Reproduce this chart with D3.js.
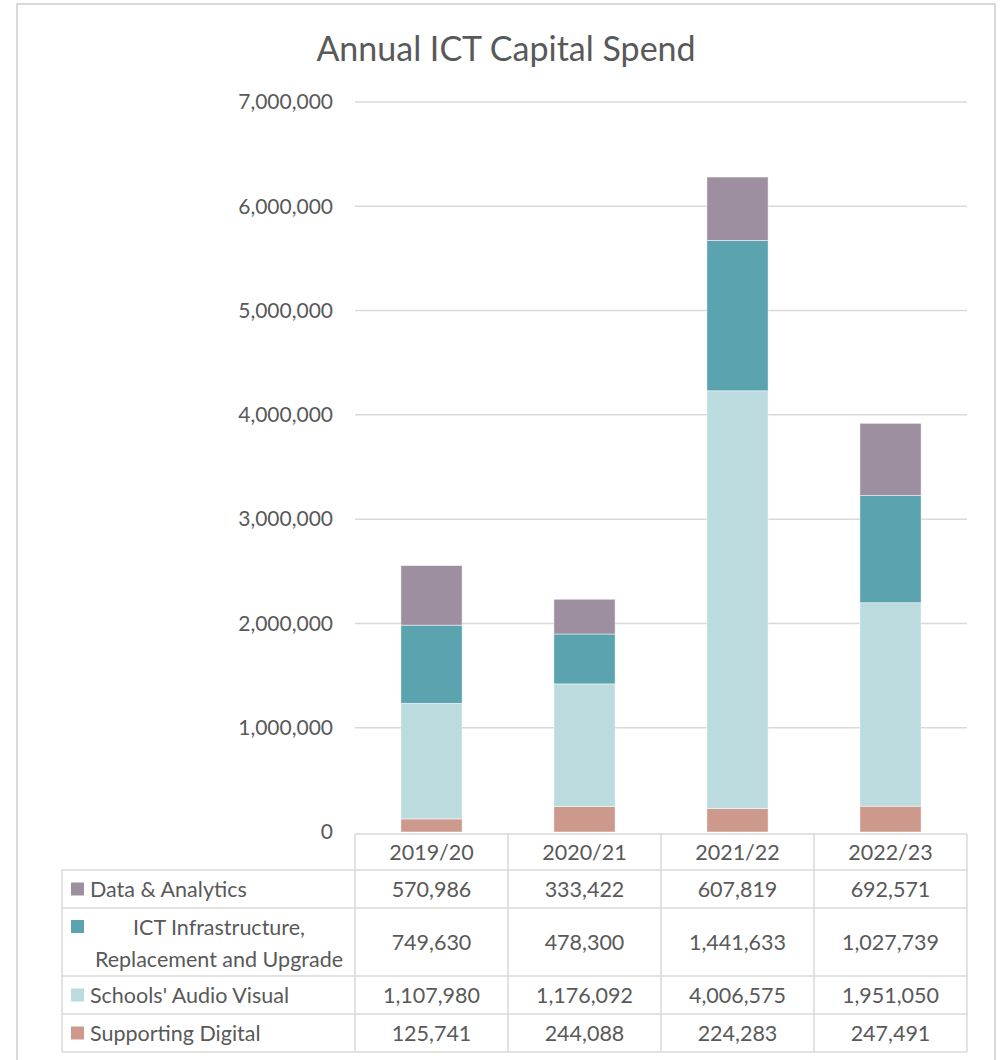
<!DOCTYPE html>
<html>
<head>
<meta charset="utf-8">
<script src="https://cdn.jsdelivr.net/npm/d3@7"></script>
<style>
  body { margin: 0; background: #fff; }
  svg text { font-family: Lato, "Open Sans", sans-serif; fill: #595959; }
</style>
</head>
<body>
<div id="chart"></div>
<script>
/////////////////////////////////////
///      DATA
/////////////////////////////////////
var years = ["2019/20", "2020/21", "2021/22", "2022/23"];
// series, bottom of the stack first
var seriesNames = ["Supporting Digital", "Schools' Audio Visual", "ICT Infrastructure, Replacement and Upgrade", "Data & Analytics"];
var supportingDigital = [125741, 244088, 224283, 247491];
var schoolsAV = [1107980, 1176092, 4006575, 1951050];
var ictInfra = [749630, 478300, 1441633, 1027739];
var dataAnalytics = [570986, 333422, 607819, 692571];
var yTicks = [0, 1000000, 2000000, 3000000, 4000000, 5000000, 6000000, 7000000];

var colours = ["#cc998c", "#bcdbdf", "#5ba3ae", "#9e8fa0"];
var seriesValues = [supportingDigital, schoolsAV, ictInfra, dataAnalytics];

var rows = years.map(function(y, i){
  var r = {year: y};
  seriesNames.forEach(function(s, j){ r[s] = seriesValues[j][i]; });
  return r;
});

/////////////////////////////////////
///      CHART
/////////////////////////////////////
var W = 1000, H = 1060;
var svg = d3.select("#chart").append("svg")
  .attr("width", W)
  .attr("height", H);

// outer chart border
svg.append("rect")
  .attr("x", 17).attr("y", 4)
  .attr("width", 978).attr("height", 1070)
  .attr("fill", "none")
  .attr("stroke", "#d9d9d9")
  .attr("stroke-width", 2);

svg.append("text")
  .attr("x", 506)
  .attr("y", 61)
  .attr("text-anchor", "middle")
  .style("font-size", "34px")
  .text("Annual ICT Capital Spend");

var x = d3.scaleBand().domain(years).range([355, 967]);
var y = d3.scaleLinear().domain([0, 7000000]).range([832, 102]);
var fmt = d3.format(",");

// gridlines
svg.append("g").selectAll("line")
  .data(yTicks.slice(1))
  .join("line")
  .attr("x1", 355).attr("x2", 967)
  .attr("y1", function(d){ return y(d); })
  .attr("y2", function(d){ return y(d); })
  .attr("stroke", "#d9d9d9")
  .attr("stroke-width", 1.5);

// value axis labels
var yAxis = d3.axisLeft(y).tickValues(yTicks).tickFormat(fmt).tickSize(0).tickPadding(0);
var yAxisG = svg.append("g")
  .attr("transform", "translate(333,0)")
  .call(yAxis);
yAxisG.select(".domain").remove();
yAxisG.selectAll("text")
  .attr("fill", "#595959")
  .style("font-family", "Lato, 'Open Sans', sans-serif")
  .style("font-size", "21px");

// stacked bars
var stack = d3.stack().keys(seriesNames);
var layers = stack(rows);
var barW = x.bandwidth() * 0.4;

svg.append("g").selectAll("g")
  .data(layers)
  .join("g")
  .attr("fill", function(d, i){ return colours[i]; })
  .selectAll("rect")
  .data(function(d){ return d; })
  .join("rect")
  .attr("x", function(d){ return x(d.data.year) + (x.bandwidth() - barW) / 2; })
  .attr("y", function(d){ return y(d[1]); })
  .attr("width", barW)
  .attr("height", function(d){ return y(d[0]) - y(d[1]); })
  .attr("stroke", "#fff")
  .attr("stroke-opacity", 0.6)
  .attr("stroke-width", 0.8);

/////////////////////////////////////
///      DATA TABLE
/////////////////////////////////////
var tableLeft = 62, tableRight = 967;
var headerTop = 834, headerBottom = 870;
// table rows in the order shown (top of the stack first)
var tableRows = [
  {name: "Data & Analytics", lines: ["Data & Analytics"], idx: 3, h: 38},
  {name: "ICT Infrastructure, Replacement and Upgrade", lines: ["ICT Infrastructure,", "Replacement and Upgrade"], idx: 2, h: 68},
  {name: "Schools' Audio Visual", lines: ["Schools' Audio Visual"], idx: 1, h: 38},
  {name: "Supporting Digital", lines: ["Supporting Digital"], idx: 0, h: 38}
];
var top0 = headerBottom;
tableRows.forEach(function(r){ r.top = top0; top0 += r.h; });
var tableBottom = top0;

var grid = svg.append("g")
  .attr("stroke", "#d9d9d9")
  .attr("stroke-width", 1.5);

grid.append("line").attr("x1", 355).attr("x2", tableRight).attr("y1", headerTop).attr("y2", headerTop);
grid.selectAll(".hl")
  .data(tableRows.map(function(r){ return r.top; }).concat([tableBottom]))
  .join("line")
  .attr("x1", tableLeft).attr("x2", tableRight)
  .attr("y1", function(d){ return d; }).attr("y2", function(d){ return d; });
grid.append("line").attr("x1", tableLeft).attr("x2", tableLeft).attr("y1", headerBottom).attr("y2", tableBottom);
grid.selectAll(".vl")
  .data(years.map(function(c){ return x(c); }).concat([tableRight]))
  .join("line")
  .attr("x1", function(d){ return d; }).attr("x2", function(d){ return d; })
  .attr("y1", headerTop).attr("y2", tableBottom);

var cellFont = "21.5px";

// header (category labels)
svg.append("g").selectAll("text")
  .data(years)
  .join("text")
  .attr("x", function(d){ return x(d) + x.bandwidth() / 2; })
  .attr("y", (headerTop + headerBottom) / 2)
  .attr("dy", "0.35em")
  .attr("text-anchor", "middle")
  .style("font-size", cellFont)
  .text(function(d){ return d; });

tableRows.forEach(function(r){
  var g = svg.append("g");
  var mid = r.top + r.h / 2;
  var keyY = r.lines.length > 1 ? r.top + 12 : mid - 6.5;
  g.append("rect")
    .attr("x", 71).attr("y", keyY)
    .attr("width", 13).attr("height", 13)
    .attr("fill", colours[r.idx]);
  if (r.lines.length > 1) {
    g.selectAll("text.lbl")
      .data(r.lines)
      .join("text")
      .attr("x", 219)
      .attr("y", function(d, i){ return r.top + 19 + i * 32; })
      .attr("dy", "0.35em")
      .attr("text-anchor", "middle")
      .style("font-size", cellFont)
      .text(function(d){ return d; });
  } else {
    g.append("text")
      .attr("x", 90)
      .attr("y", mid)
      .attr("dy", "0.35em")
      .style("font-size", cellFont)
      .text(r.lines[0]);
  }
  g.selectAll("text.val")
    .data(seriesValues[r.idx])
    .join("text")
    .attr("x", function(d, i){ return x(years[i]) + x.bandwidth() / 2; })
    .attr("y", mid)
    .attr("dy", "0.35em")
    .attr("text-anchor", "middle")
    .style("font-size", cellFont)
    .text(function(d){ return fmt(d); });
});
</script>
</body>
</html>
